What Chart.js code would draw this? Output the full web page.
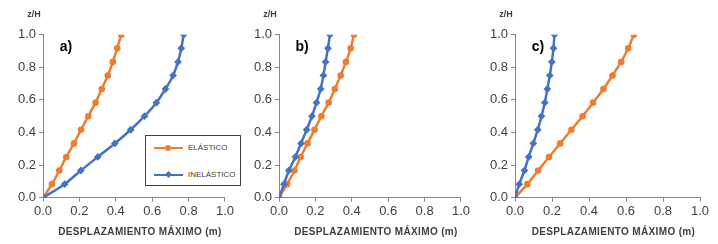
<!DOCTYPE html>
<html>
<head>
<meta charset="utf-8">
<script src="https://cdn.jsdelivr.net/npm/chart.js@4/dist/chart.umd.min.js"></script>
<style>
  html, body { margin: 0; padding: 0; background: #fff; }
  #wrap { position: relative; width: 718px; height: 244px; overflow: hidden; font-family: "Liberation Sans", Arial, sans-serif; }
  canvas { position: absolute; top: 0; }
  #legend {
    position: absolute; left: 145px; top: 135px; width: 96px; height: 51px;
    border: 1px solid #404040; background: #fff; box-sizing: border-box; z-index: 5;
  }
  .item { position: absolute; left: 8px; height: 10px; font-size: 8px; color: #404040; }
  .item .ln { position: absolute; left: 0; top: 4px; width: 29px; height: 2px; }
  .item .mk { position: absolute; }
  .item .tx { position: absolute; left: 34px; top: 0; white-space: nowrap; line-height: 10px; }
</style>
</head>
<body>
<div id="wrap">
  <canvas id="chartA" width="236" height="244" style="left:0px"></canvas>
  <canvas id="chartB" width="236" height="244" style="left:236px"></canvas>
  <canvas id="chartC" width="246" height="244" style="left:472px"></canvas>
  <div id="legend">
    <div class="item" style="top:7px">
      <div class="ln" style="background:#ED7D31"></div>
      <div class="mk" style="left:11px;top:2px;width:6px;height:6px;border-radius:50%;background:#ED7D31"></div>
      <div class="tx">ELÁSTICO</div>
    </div>
    <div class="item" style="top:34px">
      <div class="ln" style="background:#4472C4"></div>
      <div class="mk" style="left:12px;top:2px;width:5px;height:5px;transform:rotate(45deg);background:#4472C4"></div>
      <div class="tx">INELÁSTICO</div>
    </div>
  </div>
</div>
<script>
  const zLevels = [0, 0.083, 0.167, 0.25, 0.333, 0.417, 0.5, 0.583, 0.667, 0.75, 0.833, 0.917, 1.0];
  const tickValues = [0, 0.2, 0.4, 0.6, 0.8, 1.0];
  const panelLabels = ["a)", "b)", "c)"];
  const seriesNames = ["ELÁSTICO", "INELÁSTICO"];
  const xTitle = "DESPLAZAMIENTO MÁXIMO (m)";
  const yTitle = "z/H";

  const elasticA = [0, 0.049, 0.090, 0.128, 0.170, 0.209, 0.249, 0.289, 0.323, 0.356, 0.384, 0.408, 0.430];
  const inelasticA = [0, 0.119, 0.208, 0.301, 0.395, 0.482, 0.558, 0.623, 0.673, 0.715, 0.742, 0.760, 0.773];

  const elasticB = [0, 0.045, 0.085, 0.119, 0.157, 0.195, 0.233, 0.273, 0.307, 0.339, 0.368, 0.394, 0.412];
  const inelasticB = [0, 0.027, 0.054, 0.090, 0.121, 0.152, 0.181, 0.206, 0.229, 0.244, 0.256, 0.269, 0.280];

  const elasticC = [0, 0.067, 0.125, 0.184, 0.244, 0.305, 0.365, 0.422, 0.478, 0.527, 0.574, 0.612, 0.643];
  const inelasticC = [0, 0.023, 0.051, 0.074, 0.099, 0.123, 0.143, 0.161, 0.175, 0.188, 0.199, 0.208, 0.213];

  const ORANGE = "#ED7D31";
  const BLUE = "#4472C4";
  const AXIS = "#868686";
  const TEXT = "#404040";
  const FONT = "'Liberation Sans', Arial, sans-serif";

  function toPoints(xs) {
    return xs.map((x, i) => ({ x, y: zLevels[i] }));
  }

  // z/H, panel letter and x-axis title, placed relative to the plot area
  const textPlugin = {
    id: "panelText",
    afterDraw(chart, args, opts) {
      const ctx = chart.ctx;
      const a = chart.chartArea;
      ctx.save();
      ctx.fillStyle = TEXT;
      ctx.textAlign = "center";
      ctx.textBaseline = "middle";
      ctx.font = "bold 9px " + FONT;
      ctx.fillText(yTitle, a.left - 9, 15);
      ctx.fillStyle = "#000";
      ctx.font = "bold 14px " + FONT;
      ctx.fillText(opts.label, a.left + 23, a.top + 12);
      ctx.fillStyle = TEXT;
      ctx.font = "bold 10px " + FONT;
      ctx.letterSpacing = "0.35px";
      ctx.fillText(xTitle, (a.left + a.right) / 2 + 6, 232);
      ctx.restore();
    }
  };

  function axis(extra) {
    return Object.assign({
      type: "linear",
      min: 0,
      max: 1,
      afterBuildTicks(scale) {
        scale.ticks = tickValues.map((v) => ({ value: v }));
      },
      border: { display: true, color: AXIS, width: 1 },
      grid: { drawOnChartArea: false, drawTicks: true, tickLength: 4, color: AXIS }
    }, extra);
  }

  function makePanel(id, label, elastic, inelastic) {
    const el = document.getElementById(id);
    return new Chart(el, {
      type: "scatter",
      data: {
        datasets: [
          {
            label: seriesNames[0],
            data: toPoints(elastic),
            showLine: true,
            order: 1,
            borderColor: ORANGE,
            backgroundColor: ORANGE,
            borderWidth: 2.5,
            pointStyle: "circle",
            pointRadius: 3.3,
            pointBorderWidth: 0,
            tension: 0.2
          },
          {
            label: seriesNames[1],
            data: toPoints(inelastic),
            showLine: true,
            order: 0,
            borderColor: BLUE,
            backgroundColor: BLUE,
            borderWidth: 2.5,
            pointStyle: "rectRot",
            pointRadius: 3.9,
            pointBorderWidth: 0,
            tension: 0.2
          }
        ]
      },
      options: {
        responsive: false,
        animation: false,
        devicePixelRatio: 1,
        layout: { padding: { top: 34.7, right: el.width - 228, left: 0, bottom: 0 } },
        plugins: {
          legend: { display: false },
          tooltip: { enabled: false },
          panelText: { label }
        },
        scales: {
          x: axis({
            position: "bottom",
            ticks: {
              color: TEXT,
              padding: 2,
              maxRotation: 0,
              font: { family: FONT, size: 13 },
              callback(v) { return Number(v).toFixed(1); }
            },
            afterFit(scale) { scale.height = 46.3; }
          }),
          y: axis({
            position: "left",
            ticks: {
              color: TEXT,
              padding: 3,
              font: { family: FONT, size: 13 },
              callback(v) { return Number(v).toFixed(1); }
            },
            afterFit(scale) { scale.width = 43; }
          })
        }
      },
      plugins: [textPlugin]
    });
  }

  makePanel("chartA", panelLabels[0], elasticA, inelasticA);
  makePanel("chartB", panelLabels[1], elasticB, inelasticB);
  makePanel("chartC", panelLabels[2], elasticC, inelasticC);
</script>
</body>
</html>
